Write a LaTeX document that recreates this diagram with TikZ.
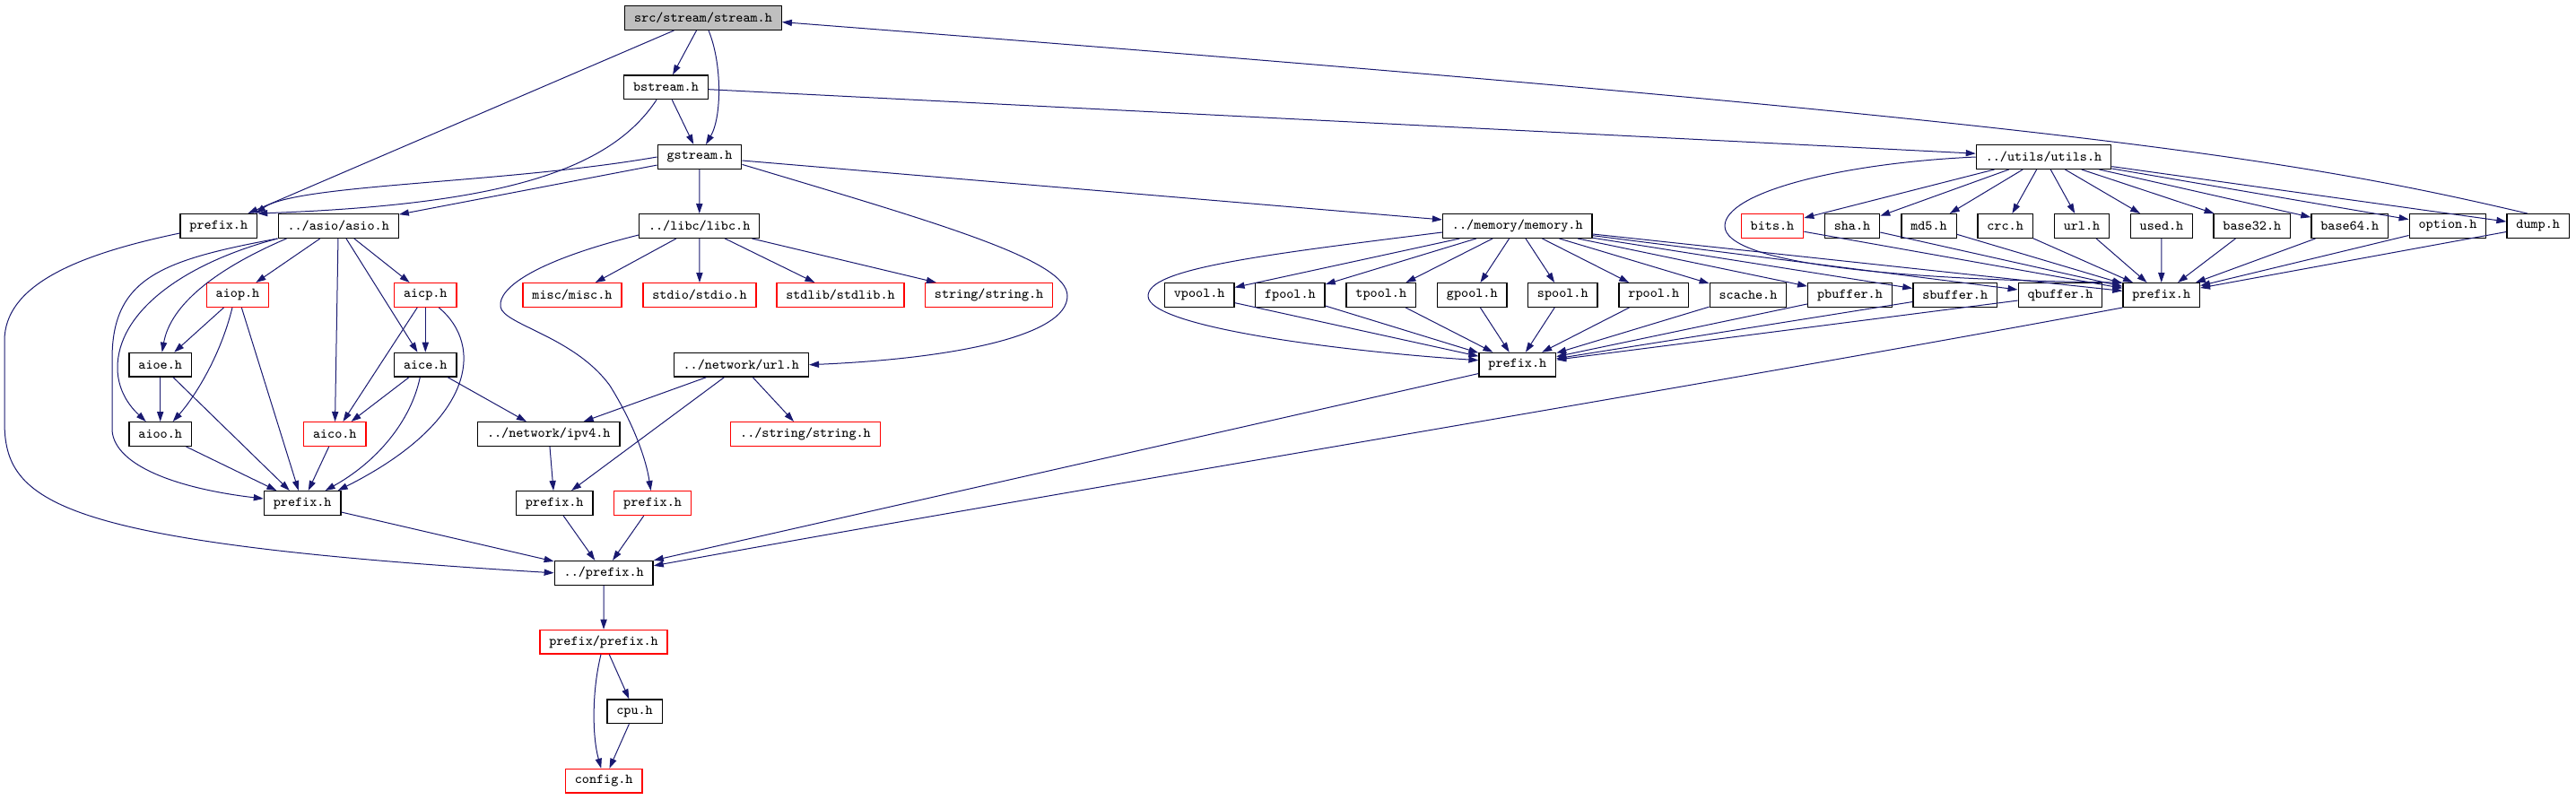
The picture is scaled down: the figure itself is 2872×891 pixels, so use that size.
\documentclass[tikz,border=0pt]{standalone}
\usetikzlibrary{arrows.meta}
\definecolor{edgeblue}{HTML}{191970}
\definecolor{rootgray}{HTML}{BFBFBF}
\begin{document}
\begin{tikzpicture}[x=0.5pt,y=-0.5pt,
  filebox/.style={draw=black,line width=0.65pt,fill=white,font=\fontsize{7.62}{8}\selectfont\ttfamily,inner xsep=5.2pt,inner ysep=0pt,minimum height=13.35pt,anchor=center},
  redfile/.style={filebox,draw=red},
  rootbox/.style={filebox,fill=rootgray},
  conn/.style={draw=edgeblue,line width=0.5pt,-{Triangle[length=5.5pt,width=3.6pt]}}]
\useasboundingbox (0,0) rectangle (2872,891);
% row 0-2
\node[rootbox] (stream) at (784,20) {src/stream/stream.h};
\node[filebox] (bstream) at (742.5,97.3) {bstream.h};
\node[filebox] (gstream) at (780,175) {gstream.h};
\node[filebox] (utils) at (2278.5,175) {../utils/utils.h};
% row 3
\node[filebox] (prefL) at (243.8,252) {prefix.h};
\node[filebox] (asio) at (377.2,252) {../asio/asio.h};
\node[filebox] (libc) at (779.7,252) {../libc/libc.h};
\node[filebox] (memory) at (1691.8,252) {../memory/memory.h};
\node[redfile] (bits) at (1976,252) {bits.h};
\node[filebox] (sha) at (2065,252) {sha.h};
\node[filebox] (md5) at (2150.5,252) {md5.h};
\node[filebox] (crc) at (2235.6,252) {crc.h};
\node[filebox] (urlu) at (2321,252) {url.h};
\node[filebox] (used) at (2410,252) {used.h};
\node[filebox] (base32) at (2510.8,252) {base32.h};
\node[filebox] (base64) at (2619.7,252) {base64.h};
\node[filebox] (option) at (2729,252) {option.h};
\node[filebox] (dump) at (2829.7,252) {dump.h};
% row 4
\node[redfile] (aiop) at (265,329) {aiop.h};
\node[redfile] (aicp) at (474.3,329) {aicp.h};
\node[redfile] (misc) at (638,329) {misc/misc.h};
\node[redfile] (stdio) at (780,329) {stdio/stdio.h};
\node[redfile] (stdlib) at (937,329) {stdlib/stdlib.h};
\node[redfile] (string) at (1102.6,329) {string/string.h};
\node[filebox] (vpool) at (1337.2,329) {vpool.h};
\node[filebox] (fpool) at (1438.4,329) {fpool.h};
\node[filebox] (tpool) at (1539.8,329) {tpool.h};
\node[filebox] (gpool) at (1641.3,329) {gpool.h};
\node[filebox] (spool) at (1742.3,329) {spool.h};
\node[filebox] (rpool) at (1843.8,329) {rpool.h};
\node[filebox] (scache) at (1949,329) {scache.h};
\node[filebox] (pbuffer) at (2062.5,329) {pbuffer.h};
\node[filebox] (sbuffer) at (2179.7,329) {sbuffer.h};
\node[filebox] (qbuffer) at (2297,329) {qbuffer.h};
\node[filebox] (prefU) at (2409.7,329) {prefix.h};
% row 5
\node[filebox] (aioe) at (178.7,406.7) {aioe.h};
\node[filebox] (aice) at (474.3,406.7) {aice.h};
\node[filebox] (url) at (826.3,406.7) {../network/url.h};
\node[filebox] (prefM) at (1691.8,406.7) {prefix.h};
% row 6
\node[filebox] (aioo) at (178.7,484) {aioo.h};
\node[redfile] (aico) at (373.3,484) {aico.h};
\node[filebox] (ipv4) at (611.8,484) {../network/ipv4.h};
\node[redfile] (rstring) at (898,484) {../string/string.h};
% row 7
\node[filebox] (prefA) at (337.2,561) {prefix.h};
\node[filebox] (prefN) at (618.2,561) {prefix.h};
\node[redfile] (prefR) at (727.6,561) {prefix.h};
% rows 8-11
\node[filebox] (dprefix) at (673.2,638.8) {../prefix.h};
\node[redfile] (pprefix) at (673,715.7) {prefix/prefix.h};
\node[filebox] (cpu) at (707.6,793.3) {cpu.h};
\node[redfile] (config) at (673.2,870.7) {config.h};

% --- top edges
\draw[conn] (stream) -- (prefL);
\draw[conn] (stream) -- (bstream);
\draw[conn] ([xshift=3pt]stream.south) .. controls (805,70) and (805,130) .. ([xshift=3.5pt]gstream.north);
\draw[conn] (bstream) -- (gstream);
\draw[conn] ([xshift=-5.25pt]bstream.south) .. controls (680,190) and (560,228) .. (prefL.north east);
\draw[conn] (bstream) -- (utils);
\draw[conn] (gstream.west) .. controls (560,205) and (330,205) .. ([xshift=-1pt]prefL.north east);
\draw[conn] (gstream) -- (asio);
\draw[conn] (gstream) -- (libc);
\draw[conn] (gstream) -- (memory);
\draw[conn] (gstream.-10) .. controls (1050,250) and (1190,290) .. (1190,330) .. controls (1190,375) and (1060,400) .. (url.east);
\draw[conn] ([xshift=-6pt]dump.north) .. controls (2550,175) and (2300,135) .. (stream.-3);

% --- utils
\foreach \n in {bits,sha,md5,crc,urlu,used,base32,base64,option,dump} {
  \draw[conn] (utils) -- (\n);
  \draw[conn] (\n) -- (prefU);
}
\draw[conn] (utils.west) .. controls (2050,182) and (1923,215) .. (1923,252) .. controls (1923,292) and (2100,312) .. (prefU.north west);

% --- memory
\foreach \n in {fpool,tpool,gpool,spool,rpool,scache,pbuffer,sbuffer,qbuffer} {
  \draw[conn] (memory) -- (\n);
}
\draw[conn] (memory) -- (vpool);
\foreach \n in {vpool,fpool,tpool,gpool,spool,rpool,scache,pbuffer,sbuffer,qbuffer} {
  \draw[conn] (\n) -- (prefM);
}
\draw[conn] (memory) -- (prefU);
\draw[conn] ([yshift=-3.5pt]memory.west) .. controls (1400,285) and (1280,300) .. (1280,330) .. controls (1280,365) and (1500,392) .. ([yshift=2.5pt]prefM.west);
\draw[conn] (prefM) -- (dprefix.north east);
\draw[conn] (prefU.south west) .. controls (1900,430) and (1200,545) .. ([yshift=4pt]dprefix.east);

% --- asio
\draw[conn] (asio) -- (aiop);
\draw[conn] (asio) -- (aicp);
\draw[conn] (asio) -- (aico);
\draw[conn] (asio) -- (aice);
\draw[conn] (asio.south west) .. controls (180,290) and (125,310) .. (125,400) -- (125,480) .. controls (128,520) and (200,545) .. ([yshift=2.5pt]prefA.west);
\draw[conn] (asio.south west) .. controls (200,295) and (131,350) .. (131,410) .. controls (131,440) and (150,458) .. ([xshift=-8pt]aioo.north);
\draw[conn] ([xshift=5pt]asio.south west) .. controls (240,300) and (190,340) .. ([xshift=1pt]aioe.north);
\draw[conn] (aiop) -- (aioe);
\draw[conn] ([xshift=-3pt]aiop.south) .. controls (245,400) and (215,445) .. ([xshift=7pt]aioo.north);
\draw[conn] (aiop) -- (prefA);
\draw[conn] (aicp) -- (aico);
\draw[conn] (aicp) -- (aice);
\draw[conn] ([xshift=7.5pt]aicp.south) .. controls (540,385) and (530,470) .. ([xshift=-2pt]prefA.north east);
\draw[conn] (aice) -- (aico);
\draw[conn] ([xshift=-3pt]aice.south) .. controls (458,470) and (420,515) .. ([xshift=-9pt]prefA.north east);
\draw[conn] (aice) -- (ipv4);
\draw[conn] (aioe) -- (aioo);
\draw[conn] (aioe) -- (prefA);
\draw[conn] (aioo) -- (prefA);
\draw[conn] (aico) -- (prefA);

% --- libc / network
\foreach \n in {misc,stdio,stdlib,string} {
  \draw[conn] (libc) -- (\n);
}
\draw[conn] ([yshift=-5pt]libc.west) .. controls (600,290) and (555,320) .. (558,342) .. controls (561,362) and (640,375) .. (680,430) .. controls (705,470) and (720,510) .. ([xshift=-1pt]prefR.north);
\draw[conn] (url) -- (ipv4);
\draw[conn] (url) -- (prefN);
\draw[conn] (url) -- (rstring);
\draw[conn] (ipv4) -- (prefN);

% --- bottom
\draw[conn] ([yshift=-4pt]prefL.west) .. controls (80,285) and (5,320) .. (5,380) -- (5,470) .. controls (5,560) and (60,605) .. (dprefix.west);
\draw[conn] (prefA) -- (dprefix);
\draw[conn] (prefN) -- (dprefix);
\draw[conn] (prefR) -- (dprefix);
\draw[conn] (dprefix) -- (pprefix);
\draw[conn] (pprefix) -- (cpu);
\draw[conn] ([xshift=-1.5pt]pprefix.south) .. controls (660,770) and (660,820) .. ([xshift=-1.5pt]config.north);
\draw[conn] (cpu) -- (config);
\end{tikzpicture}
\end{document}
